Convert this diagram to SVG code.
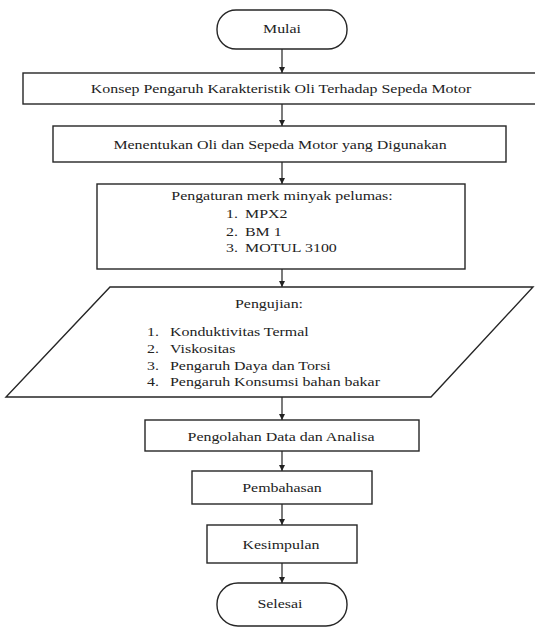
<svg xmlns="http://www.w3.org/2000/svg" width="535" height="630" viewBox="0 0 535 630">
<style>
.s{fill:#fff;stroke:#262626;stroke-width:1.4}
.t{font-family:"Liberation Serif","Times New Roman",serif;font-size:13.5px;fill:#222}
.c{text-anchor:middle}
.k{stroke:#222;stroke-width:1.2;fill:none;marker-end:url(#ah)}
</style>
<defs>
<marker id="ah" markerUnits="userSpaceOnUse" markerWidth="6" markerHeight="6" refX="6" refY="3" orient="auto">
<path d="M0,0 L6,3 L0,6 z" fill="#222"/>
</marker>
</defs>
<rect width="535" height="630" fill="#fff"/>
<g id="connectors">
<line class="k" x1="282" y1="49" x2="282" y2="73"/>
<line class="k" x1="282" y1="104" x2="282" y2="126"/>
<line class="k" x1="282" y1="162" x2="282" y2="184"/>
<line class="k" x1="282" y1="269" x2="282" y2="287"/>
<line class="k" x1="282" y1="397" x2="282" y2="420"/>
<line class="k" x1="282" y1="451" x2="282" y2="471"/>
<line class="k" x1="282" y1="504" x2="282" y2="525"/>
<line class="k" x1="282" y1="563" x2="282" y2="583"/>
</g>
<g id="mulai">
<rect class="s" x="217" y="10" width="130" height="39" rx="19" ry="19"/>
<text class="t c" transform="translate(282,33) scale(1.18,1)">Mulai</text>
</g>
<g id="konsep">
<rect class="s" x="23" y="73" width="520" height="31"/>
<text class="t c" transform="translate(281,93) scale(1.18,1)">Konsep Pengaruh Karakteristik Oli Terhadap Sepeda Motor</text>
</g>
<g id="menentukan">
<rect class="s" x="53" y="126" width="453" height="36"/>
<text class="t c" transform="translate(280,149) scale(1.18,1)">Menentukan Oli dan Sepeda Motor yang Digunakan</text>
</g>
<g id="pengaturan">
<rect class="s" x="97" y="184" width="368" height="85"/>
<text class="t c" transform="translate(282,199.5) scale(1.18,1)">Pengaturan merk minyak pelumas:</text>
<text class="t" transform="translate(226,217.5) scale(1.18,1)">1.</text>
<text class="t" transform="translate(245,217.5) scale(1.18,1)">MPX2</text>
<text class="t" transform="translate(226,235.5) scale(1.18,1)">2.</text>
<text class="t" transform="translate(245,235.5) scale(1.18,1)">BM 1</text>
<text class="t" transform="translate(226,252) scale(1.18,1)">3.</text>
<text class="t" transform="translate(245,252) scale(1.18,1)">MOTUL 3100</text>
</g>
<g id="pengujian">
<polygon class="s" points="110,287 533,287 431,397 6,397"/>
<text class="t c" transform="translate(269,307.5) scale(1.18,1)">Pengujian:</text>
<text class="t" transform="translate(147,335.5) scale(1.18,1)">1.</text>
<text class="t" transform="translate(170,335.5) scale(1.18,1)">Konduktivitas Termal</text>
<text class="t" transform="translate(147,352.5) scale(1.18,1)">2.</text>
<text class="t" transform="translate(170,352.5) scale(1.18,1)">Viskositas</text>
<text class="t" transform="translate(147,369.5) scale(1.18,1)">3.</text>
<text class="t" transform="translate(170,369.5) scale(1.18,1)">Pengaruh Daya dan Torsi</text>
<text class="t" transform="translate(147,386) scale(1.18,1)">4.</text>
<text class="t" transform="translate(170,386) scale(1.18,1)">Pengaruh Konsumsi bahan bakar</text>
</g>
<g id="pengolahan">
<rect class="s" x="145" y="420" width="274" height="31"/>
<text class="t c" transform="translate(281,440.5) scale(1.18,1)">Pengolahan Data dan Analisa</text>
</g>
<g id="pembahasan">
<rect class="s" x="192" y="471" width="180" height="33"/>
<text class="t c" transform="translate(282,492) scale(1.18,1)">Pembahasan</text>
</g>
<g id="kesimpulan">
<rect class="s" x="207" y="525" width="150" height="38"/>
<text class="t c" transform="translate(281,549) scale(1.18,1)">Kesimpulan</text>
</g>
<g id="selesai">
<rect class="s" x="217" y="583" width="130" height="43" rx="21" ry="21"/>
<text class="t c" transform="translate(280,608) scale(1.18,1)">Selesai</text>
</g>
</svg>
